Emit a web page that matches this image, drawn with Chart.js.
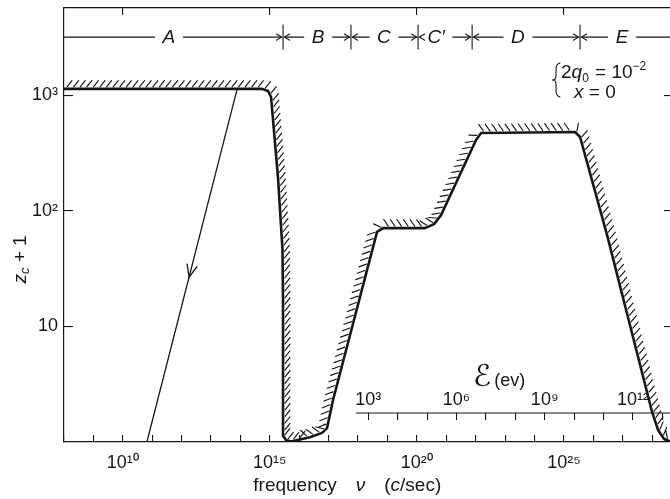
<!DOCTYPE html>
<html>
<head>
<meta charset="utf-8">
<script src="https://cdn.jsdelivr.net/npm/chart.js@4.4.1/dist/chart.umd.min.js"></script>
<style>
  html, body { margin: 0; padding: 0; background: #fff; }
</style>
</head>
<body>
<canvas id="chart" width="670" height="499"></canvas>
<script>
// boundary curve: z_c + 1 against frequency (c/sec)
const curveNu = [1e8, 5.43e14, 8.69e14, 1.10e15, 1.90e15, 2.70e15, 2.81e15, 2.81e15, 3.56e15, 5.25e15,
                 2.33e16, 5.97e16, 8.83e16, 1.41e17, 4.43e18, 7.08e18, 1.90e20, 3.85e20, 6.65e20,
                 1.03e22, 1.53e22, 2.40e25, 3.56e25, 2.94e26, 1.0e28, 1.60e28, 2.56e28, 4.07e28];
const curveZ = [1140, 1140, 1095, 970, 193, 46, 17, 1.13, 1.04, 1.01,
                1.10, 1.20, 1.32, 2.31, 66, 71, 71, 77, 92,
                412, 473, 483, 437, 62, 1.82, 1.27, 1.06, 1.01];

// the straight line with the arrow (bottom end first)
const arrowNu = [6.6e10, 7.76e13];
const arrowZ = [1, 1140];

// regions along the top
const regionLabels = ['A', 'B', 'C', 'C\u2032', 'D', 'E'];
const regionEdges = [1e8, 2.82e15, 5.75e17, 1.10e20, 7.59e21, 3.55e25, 4.07e28];
const regionLabelNu = [3.7e11, 4.4e16, 7.6e18, 4.5e20, 2.75e23, 9.5e26];
const regionBarZ = 3200;

// axes
const xMin = 1e8, xMax = 4.07e28;
const zMin = 1, zMax = 5715;
const freqDecades = [1e8, 1e9, 1e10, 1e11, 1e12, 1e13, 1e14, 1e15, 1e16, 1e17, 1e18,
                     1e19, 1e20, 1e21, 1e22, 1e23, 1e24, 1e25, 1e26, 1e27, 1e28];
const freqLabelValues = [1e10, 1e15, 1e20, 1e25];
const freqLabels = ['10\u00b9\u2070', '10\u00b9\u2075', '10\u00b2\u2070', '10\u00b2\u2075'];
const zTicks = [10, 100, 1000];
const zLabels = ['10', '10\u00b2', '10\u00b3'];

// photon energy axis (ev), drawn inside the plot
const eMin = 4.47e-8, eMax = 1.82e13;
const energyDecades = [1e3, 1e4, 1e5, 1e6, 1e7, 1e8, 1e9, 1e10, 1e11, 1e12, 1e13];
const energyLabelValues = [1e3, 1e6, 1e9, 1e12];
const energyLabels = ['10\u00b3', '10\u2076', '10\u2079', '10\u00b9\u00b2'];
const energyAxisZ = 1.783;
const energyLineE = [380, eMax];

const ink = '#161616';
const FAM = '"Liberation Sans", Arial, sans-serif';

function toPoints(xs, ys) {
    return xs.map((x, i) => ({ x, y: ys[i] }));
}

function labelFor(values, labels) {
    return v => {
        const i = values.indexOf(v);
        return i < 0 ? '' : labels[i];
    };
}

function line(ctx, x1, y1, x2, y2) {
    ctx.beginPath();
    ctx.moveTo(x1, y1);
    ctx.lineTo(x2, y2);
    ctx.stroke();
}

// open arrow head, (ux, uy) points back from the tip
function head(ctx, tx, ty, ux, uy, len, ang) {
    const c = Math.cos(ang), s = Math.sin(ang);
    ctx.beginPath();
    ctx.moveTo(tx + len * (ux * c - uy * s), ty + len * (ux * s + uy * c));
    ctx.lineTo(tx, ty);
    ctx.lineTo(tx + len * (ux * c + uy * s), ty + len * (-ux * s + uy * c));
    ctx.stroke();
}

// text pieces: [text, font, dy, gap after]
function runs(ctx, x, y, parts) {
    for (const [t, f, dy, gap] of parts) {
        ctx.font = f;
        ctx.fillText(t, x, y + (dy || 0));
        x += ctx.measureText(t).width + (gap || 0);
    }
    return x;
}

function runsWidth(ctx, parts) {
    let w = 0;
    for (const [t, f, , gap] of parts) {
        ctx.font = f;
        w += ctx.measureText(t).width + (gap || 0);
    }
    return w;
}

function noPad(s) {
    s.paddingTop = 0; s.paddingBottom = 0; s.paddingLeft = 0; s.paddingRight = 0;
}

const extras = {
    id: 'extras',
    afterDatasetsDraw(chart) {
        const ctx = chart.ctx;
        const ca = chart.chartArea;
        const sx = chart.scales.x, sy = chart.scales.y, se = chart.scales.xE;
        ctx.save();
        ctx.strokeStyle = ink;
        ctx.fillStyle = ink;
        ctx.lineCap = 'round';

        // hatching on the outer side of the boundary curve
        const pts = chart.getDatasetMeta(0).data.map(p => ({ x: p.x, y: p.y }));
        const step = 6.6, len = 8;
        let carry = 3;
        ctx.lineWidth = 1.15;
        ctx.beginPath();
        for (let i = 0; i < pts.length - 1; i++) {
            const a = pts[i], b = pts[i + 1];
            const dx = b.x - a.x, dy = b.y - a.y, L = Math.hypot(dx, dy);
            if (L < 0.01) continue;
            const tx = dx / L, ty = dy / L, nx = ty, ny = -tx;
            let s = carry;
            while (s < L) {
                const px = a.x + tx * s, py = a.y + ty * s;
                let hx, hy;
                if (sx.getValueForPixel(px) < 1.2e16) {
                    hx = 0.62; hy = -0.78;
                    if (hx * nx + hy * ny < 0) { hx = -hx; hy = -hy; }
                } else {
                    const c = Math.cos(0.6), sn = Math.sin(0.6);
                    hx = nx * c - tx * sn; hy = ny * c - ty * sn;
                }
                if (px < ca.right - 1 && py > ca.top) {
                    ctx.moveTo(px + nx * 2, py + ny * 2);
                    ctx.lineTo(px + nx * 2 + hx * len, py + ny * 2 + hy * len);
                }
                s += step;
            }
            carry = s - L;
        }
        ctx.stroke();

        // arrow head on the straight line, pointing down along it
        const am = chart.getDatasetMeta(1).data;
        const p0 = am[0], p1 = am[1];
        const al = Math.hypot(p1.x - p0.x, p1.y - p0.y);
        const ux = (p1.x - p0.x) / al, uy = (p1.y - p0.y) / al;
        const tipX = p1.x - ux * al * 0.533, tipY = p1.y - uy * al * 0.533;
        ctx.lineWidth = 1.3;
        head(ctx, tipX, tipY, ux, uy, 13, 0.4);

        // region bar along the top
        const barY = sy.getPixelForValue(regionBarZ);
        ctx.lineWidth = 1.1;
        ctx.textAlign = 'center';
        ctx.textBaseline = 'middle';
        const n = regionLabels.length;
        for (let i = 0; i < n; i++) {
            const xa = Math.max(ca.left, sx.getPixelForValue(regionEdges[i]));
            const xb = Math.min(ca.right, sx.getPixelForValue(regionEdges[i + 1]));
            const xc = sx.getPixelForValue(regionLabelNu[i]);
            ctx.font = 'italic 19px ' + FAM;
            const half = ctx.measureText(regionLabels[i]).width / 2 + 8;
            line(ctx, i > 0 ? xa + 1.5 : xa, barY, xc - half, barY);
            line(ctx, xc + half, barY, i < n - 1 ? xb - 1.5 : xb, barY);
            if (i > 0) head(ctx, xa + 1.5, barY, 1, 0, 6, 0.55);
            if (i < n - 1) head(ctx, xb - 1.5, barY, -1, 0, 6, 0.55);
            ctx.fillText(regionLabels[i], xc, barY + 1);
        }
        for (let i = 1; i < n; i++) {
            const x = sx.getPixelForValue(regionEdges[i]);
            line(ctx, x, barY - 12, x, barY + 12);
        }

        // parameters, with a brace
        ctx.textAlign = 'left';
        ctx.textBaseline = 'alphabetic';
        const bx = ca.right - 116, by = sy.getPixelForValue(1362);
        ctx.lineWidth = 1.1;
        ctx.beginPath();
        ctx.moveTo(bx + 6, by - 17);
        ctx.quadraticCurveTo(bx + 2, by - 16, bx + 2, by - 11);
        ctx.lineTo(bx + 2, by - 4);
        ctx.quadraticCurveTo(bx + 2, by, bx - 2, by);
        ctx.quadraticCurveTo(bx + 2, by, bx + 2, by + 4);
        ctx.lineTo(bx + 2, by + 11);
        ctx.quadraticCurveTo(bx + 2, by + 16, bx + 6, by + 17);
        ctx.stroke();
        runs(ctx, bx + 7, by - 2, [
            ['2', '19px ' + FAM], ['q', 'italic 19px ' + FAM], ['0', '12px ' + FAM, 4, 1],
            [' = 10', '19px ' + FAM], ['\u22122', '12px ' + FAM, -8]
        ]);
        runs(ctx, bx + 20, by + 18, [
            ['x', 'italic 19px ' + FAM], [' = 0', '19px ' + FAM]
        ]);

        // energy axis title
        const ex = se.getPixelForValue(2.8e7), ey = sy.getPixelForValue(energyAxisZ) - 27;
        const eParts = [['\u2130', '30px "DejaVu Sans", ' + FAM, 0, 3], ['(ev)', '18px ' + FAM]];
        runs(ctx, ex - runsWidth(ctx, eParts) / 2, ey, eParts);

        // x axis title
        const xParts = [['frequency', '19px ' + FAM, 0, 19], ['\u03bd', 'italic 19px ' + FAM, 0, 19],
                        ['(', '19px ' + FAM], ['c', 'italic 19px ' + FAM], ['/sec)', '19px ' + FAM]];
        const xcx = sx.getPixelForValue(4.3e17);
        runs(ctx, xcx - runsWidth(ctx, xParts) / 2, 491, xParts);

        // y axis title, rotated
        const yParts = [['z', 'italic 19px ' + FAM], ['c', 'italic 13px ' + FAM, 4], [' + 1', '19px ' + FAM]];
        ctx.translate(21, sy.getPixelForValue(38));
        ctx.rotate(-Math.PI / 2);
        ctx.textBaseline = 'middle';
        runs(ctx, -runsWidth(ctx, yParts) / 2, 0, yParts);

        ctx.restore();
    }
};

const axisBorder = { color: ink, width: 1.2 };

new Chart(document.getElementById('chart'), {
    type: 'line',
    data: {
        datasets: [
            {
                data: toPoints(curveNu, curveZ),
                xAxisID: 'x', yAxisID: 'y',
                borderColor: ink, borderWidth: 2.6,
                borderJoinStyle: 'round', borderCapStyle: 'round',
                pointRadius: 0, tension: 0, fill: false
            },
            {
                data: toPoints(arrowNu, arrowZ),
                xAxisID: 'x', yAxisID: 'y',
                borderColor: ink, borderWidth: 1.3,
                pointRadius: 0, fill: false
            },
            {
                data: energyLineE.map(e => ({ x: e, y: energyAxisZ })),
                xAxisID: 'xE', yAxisID: 'y',
                borderColor: ink, borderWidth: 1.2,
                pointRadius: 0, fill: false
            }
        ]
    },
    options: {
        responsive: false,
        devicePixelRatio: 1,
        animation: false,
        events: [],
        layout: { padding: 0 },
        plugins: { legend: { display: false }, tooltip: { enabled: false } },
        scales: {
            x: {
                type: 'logarithmic', position: 'bottom', min: xMin, max: xMax,
                afterBuildTicks: s => { s.ticks = freqDecades.map(v => ({ value: v })); },
                afterFit: s => { s.height = 57; noPad(s); },
                border: axisBorder,
                grid: { drawOnChartArea: false, tickLength: -7, color: ink, lineWidth: 1.1 },
                ticks: {
                    autoSkip: false, maxRotation: 0, padding: 17, color: ink,
                    font: { family: FAM, size: 18 },
                    callback: labelFor(freqLabelValues, freqLabels)
                }
            },
            xTop: {
                type: 'logarithmic', axis: 'x', position: 'top', min: xMin, max: xMax,
                afterBuildTicks: s => { s.ticks = freqLabelValues.map(v => ({ value: v })); },
                afterFit: s => { s.height = 8; noPad(s); },
                border: axisBorder,
                grid: { drawOnChartArea: false, tickLength: -7, color: ink, lineWidth: 1.1 },
                ticks: { autoSkip: false, maxRotation: 0, padding: 0, callback: () => '' }
            },
            xE: {
                type: 'logarithmic', axis: 'x', position: { y: energyAxisZ }, min: eMin, max: eMax,
                afterBuildTicks: s => { s.ticks = energyDecades.map(v => ({ value: v })); },
                afterFit: s => { s.height = 0; noPad(s); },
                border: { display: false },
                grid: { drawOnChartArea: false, tickLength: 7, color: ink, lineWidth: 1.1 },
                ticks: {
                    autoSkip: false, maxRotation: 0, padding: -31, color: ink,
                    font: { family: FAM, size: 18 },
                    callback: labelFor(energyLabelValues, energyLabels)
                }
            },
            y: {
                type: 'logarithmic', position: 'left', min: zMin, max: zMax,
                afterBuildTicks: s => { s.ticks = zTicks.map(v => ({ value: v })); },
                afterFit: s => { s.width = 64; noPad(s); },
                border: axisBorder,
                grid: { drawOnChartArea: false, tickLength: -9, color: ink, lineWidth: 1.1 },
                ticks: {
                    padding: 15, color: ink,
                    font: { family: FAM, size: 18 },
                    callback: labelFor(zTicks, zLabels)
                }
            },
            yRight: {
                type: 'logarithmic', axis: 'y', position: 'right', min: zMin, max: zMax,
                afterBuildTicks: s => { s.ticks = zTicks.map(v => ({ value: v })); },
                afterFit: s => { s.width = 0; noPad(s); },
                border: { display: false },
                grid: { drawOnChartArea: false, tickLength: -6, color: ink, lineWidth: 1.1 },
                ticks: { callback: () => '' }
            }
        }
    },
    plugins: [extras]
});
</script>
</body>
</html>
